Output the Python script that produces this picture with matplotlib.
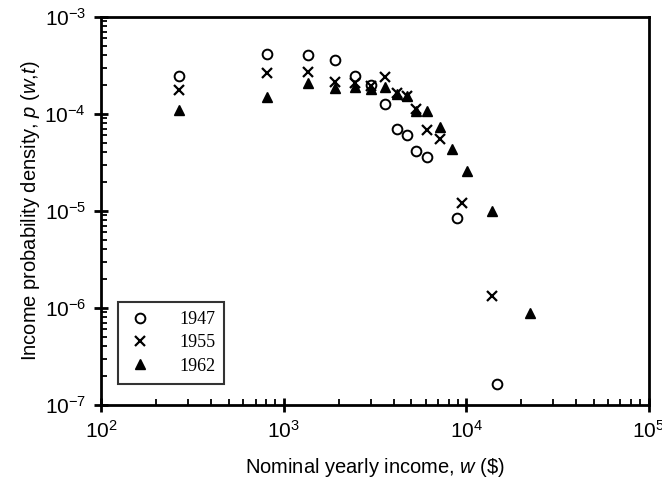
import numpy as np
import matplotlib.pyplot as plt
from matplotlib.ticker import LogLocator, NullFormatter

# income (w, $) and density p(w,t)
w_1947 = [267, 811, 1361, 1910, 2467, 3020, 3580, 4160, 4710, 5270, 6095, 8920, 14820]
p_1947 = [2.44e-4, 4.18e-4, 4.02e-4, 3.63e-4, 2.44e-4, 2.0e-4, 1.25e-4, 7.0e-5, 6.06e-5,
          4.11e-5, 3.56e-5, 8.5e-6, 1.65e-7]

w_1955 = [267, 811, 1361, 1910, 2467, 3020, 3580, 4160, 4710, 5270, 6095, 7210, 9420, 13870]
p_1955 = [1.78e-4, 2.64e-4, 2.71e-4, 2.13e-4, 2.1e-4, 1.95e-4, 2.40e-4, 1.64e-4, 1.53e-4,
          1.11e-4, 6.78e-5, 5.56e-5, 1.2e-5, 1.34e-6]

w_1962 = [267, 811, 1361, 1910, 2467, 3020, 3580, 4160, 4710, 5270, 6095, 7210, 8300,
          10070, 13870, 22440]
p_1962 = [1.09e-4, 1.50e-4, 2.10e-4, 1.85e-4, 1.9e-4, 1.82e-4, 1.9e-4, 1.59e-4, 1.52e-4,
          1.06e-4, 1.06e-4, 7.3e-5, 4.38e-5, 2.56e-5, 9.95e-6, 8.9e-7]

plt.rcParams['font.family'] = ['Liberation Sans', 'DejaVu Sans']
plt.rcParams['mathtext.fontset'] = 'custom'
plt.rcParams['mathtext.it'] = 'Liberation Sans:italic'
plt.rcParams['mathtext.rm'] = 'Liberation Sans'

fig = plt.figure(figsize=(6.62, 4.82), dpi=100)
ax = fig.add_axes([0.153, 0.160, 0.827, 0.805])

ax.plot(w_1947, p_1947, linestyle='none', marker='o', markersize=7,
        markerfacecolor='white', markeredgecolor='black', markeredgewidth=1.4, label='1947')
ax.plot(w_1955, p_1955, linestyle='none', marker='x', markersize=7.5,
        color='black', markeredgewidth=1.6, label='1955')
ax.plot(w_1962, p_1962, linestyle='none', marker='^', markersize=7.5,
        color='black', label='1962')

ax.set_xscale('log')
ax.set_yscale('log')
ax.set_xlim(1e2, 1e5)
ax.set_ylim(1e-7, 1e-3)

for side in ['top', 'right', 'left', 'bottom']:
    ax.spines[side].set_linewidth(2)

ax.xaxis.set_major_locator(LogLocator(base=10, numticks=10))
ax.yaxis.set_major_locator(LogLocator(base=10, numticks=10))
ax.xaxis.set_minor_locator(LogLocator(base=10, subs=np.arange(2, 10), numticks=20))
ax.yaxis.set_minor_locator(LogLocator(base=10, subs=np.arange(2, 10), numticks=20))
ax.xaxis.set_minor_formatter(NullFormatter())
ax.yaxis.set_minor_formatter(NullFormatter())
ax.tick_params(which='major', direction='inout', length=10, width=2, labelsize=15, pad=6)
ax.tick_params(which='minor', direction='in', length=4, width=1.3)
ax.tick_params(top=False, right=False)

ax.set_xlabel(r'Nominal yearly income, $w$ (\$)', fontsize=14.5, labelpad=10)
ax.set_ylabel(r'Income probability density, $p$ ($w$,$t$)', fontsize=14.5, labelpad=2)

leg = ax.legend(loc='lower left', bbox_to_anchor=(0.03, 0.055), frameon=True, fancybox=False,
                prop={'family': 'Liberation Serif', 'size': 13}, handletextpad=1.4,
                borderpad=0.5, labelspacing=0.35, handlelength=1.5, borderaxespad=0)
leg.get_frame().set_edgecolor('black')
leg.get_frame().set_linewidth(1.5)

fig.savefig('out.png', dpi=100)
